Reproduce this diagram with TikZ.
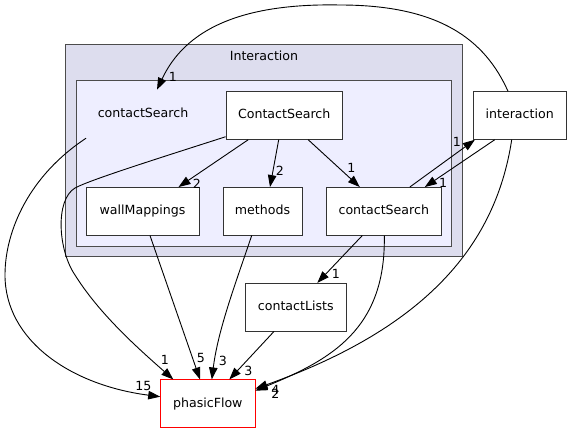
\documentclass[tikz,border=0pt]{standalone}
\usepackage{fontspec}
\setmainfont{DejaVu Sans}
\usepackage{xcolor}
\usetikzlibrary{positioning, arrows.meta, calc}

\definecolor{clusterouter}{HTML}{DDDDEE}
\definecolor{clusterinner}{HTML}{EEEEFF}

\begin{document}
\begin{tikzpicture}[
    x=1pt, y=-1pt,
    >={Triangle[length=12pt, width=8.5pt]},
    font=\fontsize{12.6}{15}\selectfont,
    line width=0.9pt,
    outerbox/.style={draw=black!70, fill=clusterouter, inner sep=0pt},
    innerbox/.style={draw=black!70, fill=clusterinner, inner sep=0pt},
    dirbox/.style={draw=black!80, fill=white, inner sep=0pt, minimum width=#1,
        minimum height=47.6pt, text height=9.3pt, text depth=2.4pt}
]
    \useasboundingbox (0,0) rectangle (571,433);

    % Clusters: Interaction holds contactSearch
    \node[outerbox, minimum width=397pt, minimum height=212.4pt] (Interaction) at (263.5,150.5) {};
    \node[text height=9.3pt, text depth=2.4pt] (InteractionTitle) at (264,57) {Interaction};
    \node[innerbox, minimum width=375.7pt, minimum height=166pt] (csCluster) at (263.9,163.7) {};
    \node[inner sep=0pt, minimum width=115pt, minimum height=47.6pt, text height=9.3pt, text depth=2.4pt] (csLabel) at (143,114) {contactSearch};

    % Directories
    \node[dirbox=116.3pt] (ContactSearch) at (284.2,115.5) {ContactSearch};
    \node[dirbox=113pt] (wallMappings) at (142.5,211.3) {wallMappings};
    \node[dirbox=79pt] (methods) at (262.5,211.3) {methods};
    \node[dirbox=114.3pt] (contactSearch) at (383.8,211.3) {contactSearch};
    \node[dirbox=92.7pt] (interaction) at (519.7,115.5) {interaction};
    \node[dirbox=100.3pt] (contactLists) at (295.8,307.2) {contactLists};
    \node[dirbox=94.3pt, draw=red] (phasicFlow) at (207.8,403.7) {phasicFlow};

    % Straight dependencies
    \path[->]
        ([xshift=-36pt]ContactSearch.south) edge node[at end, xshift=18.4pt, yshift=3.4pt] {2} ([xshift=36pt]wallMappings.north)
        ([xshift=-5.5pt]ContactSearch.south) edge node[at end, xshift=10pt, yshift=16.3pt] {2} ([xshift=7.5pt]methods.north)
        ([xshift=24pt]ContactSearch.south) edge node[at end, xshift=-8.3pt, yshift=19.3pt] {1} ([xshift=-24pt]contactSearch.north)
        ([xshift=26pt]contactSearch.north) edge node[at end, xshift=-18pt, yshift=-2.4pt] {1} ([xshift=2pt]interaction.south west)
        ([xshift=-25pt]interaction.south) edge node[at end, xshift=18.3pt, yshift=3.7pt] {1} ([xshift=41pt]contactSearch.north)
        ([xshift=-21.5pt]contactSearch.south) edge node[at end, xshift=18.7pt, yshift=9pt] {1} ([xshift=21.5pt]contactLists.north)
        ([xshift=7.5pt]wallMappings.south) edge node[at end, xshift=1pt, yshift=21.7pt] {5} ([xshift=-7.8pt]phasicFlow.north)
        ([xshift=-21.8pt]contactLists.south) edge node[at end, xshift=19pt, yshift=8.6pt] {3} ([xshift=21.5pt]phasicFlow.north);

    % Curved dependencies
    \draw[->] ([xshift=-10.8pt]methods.south) .. controls (235,285) and (218,330) .. ([xshift=4pt]phasicFlow.north)
        node[at end, xshift=11pt, yshift=18.3pt] {3};
    \draw[->] ([xshift=0.5pt]contactSearch.south) .. controls (386,330) and (330,360) .. ([yshift=13pt]phasicFlow.east)
        node[at end, xshift=20pt, yshift=-3.6pt] {2};
    \draw[->] ([xshift=-8pt]interaction.south) .. controls (495,250) and (420,330) .. ([yshift=15pt]phasicFlow.east)
        node[at end, xshift=20pt, yshift=-1.3pt] {4};
    \draw[->] ([yshift=3pt]ContactSearch.south west) .. controls (150,161) and (90,180) .. (75,188)
        .. controls (55,200) and (58,250) .. (75,275)
        .. controls (100,315) and (140,350) .. ([xshift=-34.5pt]phasicFlow.north)
        node[at end, xshift=-8.3pt, yshift=19.3pt] {1};
    \draw[->] ([xshift=1pt]csLabel.south west) .. controls (30,175) and (5,230) .. (5,275)
        .. controls (5,340) and (70,385) .. ([yshift=7pt]phasicFlow.west)
        node[at end, xshift=-16.7pt, yshift=11pt] {15};
    \draw[->] ([xshift=-11.7pt]interaction.north) .. controls (485,40) and (440,5) .. (340,5)
        .. controls (240,3) and (185,30) .. ([xshift=14pt]csLabel.north)
        node[at end, xshift=16pt, yshift=12.4pt] {1};
\end{tikzpicture}
\end{document}
